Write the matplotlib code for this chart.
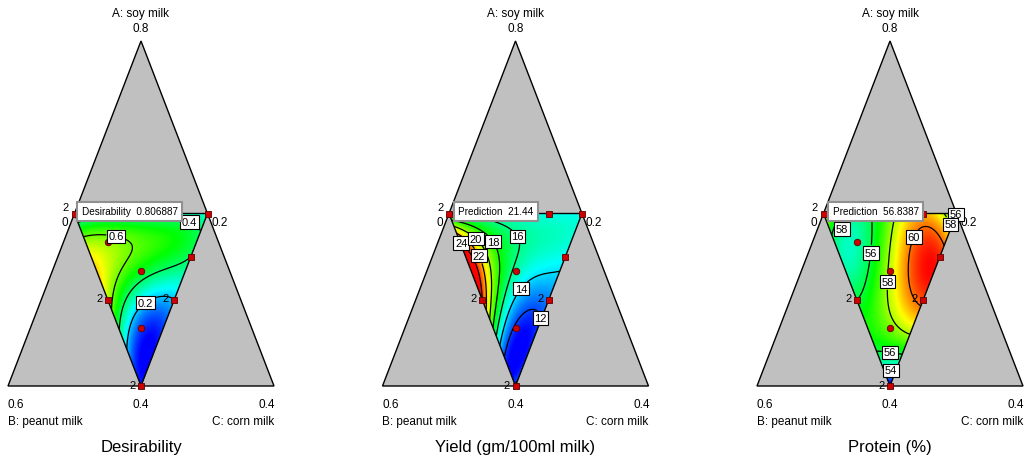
import numpy as np
import matplotlib.pyplot as plt
from matplotlib.colors import LinearSegmentedColormap
from matplotlib.patches import Polygon

plt.rcParams['font.family'] = ['Liberation Sans', 'DejaVu Sans']

# design points, actual proportions (A: soy, B: peanut, C: corn)
soy    = [0.60, 0.60, 0.40, 0.50, 0.50, 0.60, 0.55, 0.5333, 0.5667, 0.4667]
peanut = [0.40, 0.20, 0.40, 0.40, 0.30, 0.25, 0.25, 0.3333, 0.3667, 0.3667]
corn   = [0.00, 0.20, 0.20, 0.10, 0.20, 0.15, 0.20, 0.1333, 0.0667, 0.1667]
replicate = [1, 0, 1, 1, 1, 0, 0, 0, 0, 0]
on_edge   = [1, 1, 1, 1, 1, 1, 1, 0, 0, 0]

# response on a {3,4} lattice of the constrained region
# (rows from the top edge down, left to right)
desirability = [0.24, 0.31, 0.30, 0.31, 0.28,
                0.76, 0.62, 0.50, 0.40,
                0.68, 0.25, 0.20,
                0.26, 0.03,
                0.03]
yield_ml = [15.5, 15.2, 14.8, 14.6, 14.6,
            26.2, 18.0, 15.2, 14.5,
            24.0, 13.8, 12.8,
            14.5, 11.5,
            12.3]
protein = [59.0, 55.4, 57.5, 59.3, 55.8,
           55.0, 56.3, 59.8, 60.6,
           56.0, 58.2, 60.3,
           56.4, 57.2,
           51.5]

titles = ['Desirability', 'Yield (gm/100ml milk)', 'Protein (%)']
flag_text = ['Desirability  0.806887', 'Prediction  21.44', 'Prediction  56.8387']
levels = [[0.2, 0.4, 0.6],
          [12, 14, 16, 18, 20, 22, 24],
          [54, 56, 58, 60]]
fmts = ['%.1f', '%d', '%d']
vlims = [(0.0, 1.0), (11.0, 24.5), (52.0, 61.0)]

# contour labels: level and rough spot (pseudo x, y)
label_lvl = [[0.6, 0.4, 0.2],
             [24, 20, 18, 16, 22, 14, 12],
             [58, 56, 58, 60, 56, 58, 56, 54]]
label_pos = [
    [(-0.203, 0.406), (0.368, 0.481), (0.015, 0.249)],
    [(-0.395, 0.420), (-0.289, 0.432), (-0.169, 0.420), (0.004, 0.432),
     (-0.282, 0.377), (0.019, 0.290), (0.124, 0.194)],
    [(-0.36, 0.462), (0.459, 0.515), (0.429, 0.464), (0.150, 0.438),
     (-0.165, 0.388), (-0.038, 0.304), (0.0, 0.104), (0.008, 0.052)],
]

cmap = LinearSegmentedColormap.from_list(
    'dx', ['#0000FF', '#00FFFF', '#00FF00', '#FFFF00', '#FF0000'])

# lattice in local coords of the constrained triangle (u1: top-left, u2: top-right, u3: bottom)
lat = [(1 - j / 4 - k / 4, j / 4) for k in range(5) for j in range(5 - k)]
powers = [(p, q) for p in range(5) for q in range(5 - p)]


def basis(u1, u2):
    return np.stack([u1 ** p * u2 ** q for p, q in powers], axis=-1)


V = basis(np.array([l[0] for l in lat]), np.array([l[1] for l in lat]))

gx = np.linspace(-0.55, 0.55, 330)
gy = np.linspace(-0.02, 0.52, 170)
XX, YY = np.meshgrid(gx, gy)
U1 = YY - XX
U2 = YY + XX

# pseudo coords of design points
pa = (np.array(soy) - 0.4) / 0.4
pb = (np.array(peanut) - 0.2) / 0.4
pc = np.array(corn) / 0.4
PX, PY = pc - pb, pa
edge = np.array(on_edge, dtype=bool)


def in_region(p):
    u1, u2 = p[:, 1] - p[:, 0], p[:, 1] + p[:, 0]
    return (u1 >= 0.0) & (u2 >= 0.0) & (u1 + u2 <= 1.0)


fig = plt.figure(figsize=(10.26, 4.6), dpi=100)

for i, vals in enumerate([desirability, yield_ml, protein]):
    cx = 141 + 374.5 * i
    ax = fig.add_axes([(cx - 133) / 1026, 73 / 460, 266 / 1026, 345 / 460])
    ax.set_xlim(-1, 1)
    ax.set_ylim(0, 1)
    ax.axis('off')

    ax.add_patch(Polygon([(-1, 0), (1, 0), (0, 1)], closed=True, fc='#C0C0C0',
                         ec='k', lw=1, clip_on=False, zorder=1))
    region = Polygon([(-0.5, 0.5), (0.5, 0.5), (0, 0)], closed=True, fc='none',
                     ec='k', lw=1, zorder=4)
    ax.add_patch(region)

    coef = np.linalg.solve(V, np.array(vals))
    Z = basis(U1, U2) @ coef

    im = ax.imshow(Z, extent=(gx[0], gx[-1], gy[0], gy[-1]), origin='lower',
                   cmap=cmap, vmin=vlims[i][0], vmax=vlims[i][1],
                   interpolation='bilinear', aspect='auto', zorder=2)
    im.set_clip_path(region)

    cs = ax.contour(XX, YY, Z, levels=levels[i], colors='k', linewidths=0.9, zorder=3)
    cs.set_clip_path(region)

    # snap each label spot onto its own level's line
    spots = []
    for lv, pos in zip(label_lvl[i], label_pos[i]):
        segs = cs.allsegs[levels[i].index(lv)]
        pts = np.vstack([s for s in segs if len(s)])
        inside = pts[in_region(pts)]
        if len(inside):
            pts = inside
        d = ((pts[:, 0] - pos[0]) * 133) ** 2 + ((pts[:, 1] - pos[1]) * 345) ** 2
        spots.append(tuple(pts[np.argmin(d)]))
    txts = ax.clabel(cs, fmt=fmts[i], manual=spots, inline=True,
                     inline_spacing=2, fontsize=8)
    for t in txts:
        t.set_rotation(0)
        t.set_bbox(dict(boxstyle='square,pad=0.15', fc='white', ec='k', lw=0.8))
        t.set_zorder(7)
        x, y = t.get_position()
        if x < -0.3 and y > 0.455:
            # keep the corner label clear of the prediction flag
            t.set_position((-0.36, 0.455))

    ax.scatter(PX[edge], PY[edge], marker='s', s=18, c='#CC0000', edgecolors='#5A0000',
               linewidths=0.6, zorder=6, clip_on=False)
    ax.scatter(PX[~edge], PY[~edge], marker='o', s=22, c='#CC0000', edgecolors='#5A0000',
               linewidths=0.6, zorder=6, clip_on=False)
    for x, y, r in zip(PX, PY, replicate):
        if r:
            off = (-4, 5) if y > 0.45 else (-4, 1)
            ax.annotate('2', (x, y), xytext=off, textcoords='offset points',
                        ha='right', va='center', fontsize=8, zorder=6)

    ax.text(-0.444 + (0.012 if i else 0), 0.507, flag_text[i], fontsize=7.2,
            ha='left', va='center', zorder=8,
            bbox=dict(boxstyle='square,pad=0.45', fc='white', ec='#909090', lw=1.5))

    # axis texts
    ax.text(0, 1.081, 'A: soy milk', ha='center', va='center', fontsize=8.5)
    ax.text(0, 1.038, '0.8', ha='center', va='center', fontsize=8.5)
    ax.text(-0.94, -0.052, '0.6', ha='center', va='center', fontsize=8.5)
    ax.text(0, -0.052, '0.4', ha='center', va='center', fontsize=8.5)
    ax.text(0.947, -0.052, '0.4', ha='center', va='center', fontsize=8.5)
    ax.text(-1.0, -0.101, 'B: peanut milk', ha='left', va='center', fontsize=8.5)
    ax.text(1.0, -0.101, 'C: corn milk', ha='right', va='center', fontsize=8.5)
    ax.text(0, -0.174, titles[i], ha='center', va='center', fontsize=12)
    ax.text(-0.545, 0.475, '0', ha='right', va='center', fontsize=8.5)
    ax.text(0.53, 0.475, '0.2', ha='left', va='center', fontsize=8.5)

fig.savefig('out.png', dpi=100)
